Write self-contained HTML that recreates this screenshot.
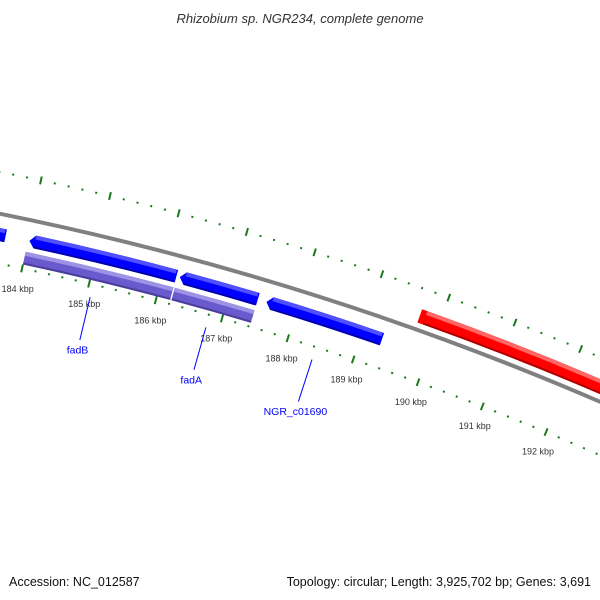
<!DOCTYPE html>
<html><head><meta charset="utf-8"><style>
html,body{margin:0;padding:0;background:#fff;width:600px;height:600px;overflow:hidden;}
svg{display:block;font-family:"Liberation Sans",sans-serif;overflow:hidden;}
</style></head><body>
<svg id="map" width="600" height="600" viewBox="0 0 600 600" xmlns="http://www.w3.org/2000/svg">
<rect width="600" height="600" fill="#fff"/>
<g id="plot"></g>
<text x="300" y="23" text-anchor="middle" font-size="13" font-style="italic" fill="#333">Rhizobium sp. NGR234, complete genome</text>
<text x="9" y="586" font-size="12.5" fill="#111">Accession: NC_012587</text>
<text x="591" y="586" text-anchor="end" font-size="12.5" fill="#111">Topology: circular; Length: 3,925,702 bp; Genes: 3,691</text>
</svg>
<script>
// data
const geneStart = [182.5, 184.02, 186.25, 187.55, 189.7];
const geneEnd   = [183.67, 186.2, 187.42, 189.3, 194.0];
const geneStrand = [-1, -1, -1, -1, 1];
const cogStart = [184.0, 186.22];
const cogEnd   = [186.2, 187.42];
const majorTicks = [184,185,186,187,188,189,190,191,192];
const tickLabels = ["184 kbp","185 kbp","186 kbp","187 kbp","188 kbp","189 kbp","190 kbp","191 kbp","192 kbp"];
const geneLabels = ["fadB","fadA","NGR_c01690"];
const geneLabelPos = [185.06, 186.81, 188.43];

// geometry
const CX=-605, CY=3196;
const R_BACK=3043, R_INNER=2994, R_OUTER=3084, R_LABEL=2973;
function ang(kbp){return (-77.91+(kbp-184)*1.315)*Math.PI/180;}
function P(r,k){const t=ang(k);return [CX+r*Math.cos(t), CY+r*Math.sin(t)];}
const NS="http://www.w3.org/2000/svg";
const g=document.getElementById('plot');
function mk(tag,attrs){const e=document.createElementNS(NS,tag);for(const k in attrs)e.setAttribute(k,attrs[k]);g.appendChild(e);return e;}
function band(r1,r2,k1,k2){
  const a=P(r2,k1),b=P(r2,k2),c=P(r1,k2),d=P(r1,k1);
  return `M${a[0]},${a[1]} A${r2},${r2} 0 0 1 ${b[0]},${b[1]} L${c[0]},${c[1]} A${r1},${r1} 0 0 0 ${d[0]},${d[1]} Z`;
}
function arrowBand(r1,r2,k1,k2,strand){
  const h=0.08, rm=(r1+r2)/2;
  if(strand<0){
    const t=P(rm,k1),a=P(r2,k1+h),b=P(r2,k2),c=P(r1,k2),d=P(r1,k1+h);
    return `M${t[0]},${t[1]} L${a[0]},${a[1]} A${r2},${r2} 0 0 1 ${b[0]},${b[1]} L${c[0]},${c[1]} A${r1},${r1} 0 0 0 ${d[0]},${d[1]} Z`;
  } else {
    const t=P(rm,k2),a=P(r2,k1),b=P(r2,k2-h),c=P(r1,k2-h),d=P(r1,k1);
    return `M${a[0]},${a[1]} A${r2},${r2} 0 0 1 ${b[0]},${b[1]} L${t[0]},${t[1]} L${c[0]},${c[1]} A${r1},${r1} 0 0 0 ${d[0]},${d[1]} Z`;
  }
}

// ticks
for(let i=0;i<=65;i++){
  const k=182+i*0.2;
  const major=Math.abs(k-Math.round(k))<1e-6;
  [R_INNER,R_OUTER].forEach(r=>{
    const l=major?4:1;
    const p1=P(r-l,k),p2=P(r+l,k);
    const ln=mk('line',{x1:p1[0],y1:p1[1],x2:p2[0],y2:p2[1],stroke:'#1a7a1a','stroke-width':2});
    
    
  });
}
majorTicks.forEach((k,i)=>{
  const p=P(R_LABEL,k);
  const t=mk('text',{x:p[0],y:p[1]+3,'text-anchor':'middle','font-size':9,fill:'#333'});
  t.textContent=tickLabels[i];
  
  
});

// backbone (arc only within view)
const b1=P(R_BACK,182.5),b2=P(R_BACK,193.5);
const bb=mk('path',{d:`M${b1[0]},${b1[1]} A${R_BACK},${R_BACK} 0 0 1 ${b2[0]},${b2[1]}`,fill:'none',stroke:'#808080','stroke-width':4});



// genes
geneStart.forEach((s,i)=>{
  const st=geneStrand[i];
  const r1=st<0?3016:3050, r2=st<0?3029:3064;
  const base=st<0?'#0000ff':'#ff0000', hi=st<0?'#5050ff':'#ff6666', lo=st<0?'#0000b0':'#b00000';
  const grp=document.createElementNS(NS,'g');g.appendChild(grp);
  
  
  const m=document.createElementNS(NS,'path');m.setAttribute('d',arrowBand(r1,r2,s,geneEnd[i],st));m.setAttribute('fill',base);grp.appendChild(m);
  const h=document.createElementNS(NS,'path');h.setAttribute('d',band(r2-4,r2,s+0.08,geneEnd[i]-0.02));h.setAttribute('fill',hi);grp.appendChild(h);
  const l=document.createElementNS(NS,'path');l.setAttribute('d',band(r1,r1+2,s+0.08,geneEnd[i]-0.02));l.setAttribute('fill',lo);grp.appendChild(l);
});
cogStart.forEach((s,i)=>{
  const grp=document.createElementNS(NS,'g');g.appendChild(grp);
  
  
  const r1=2998,r2=3011;
  const m=document.createElementNS(NS,'path');m.setAttribute('d',band(r1,r2,s,cogEnd[i]));m.setAttribute('fill','#6a5acd');grp.appendChild(m);
  const h=document.createElementNS(NS,'path');h.setAttribute('d',band(r2-4,r2,s,cogEnd[i]));h.setAttribute('fill','#9d92e6');grp.appendChild(h);
  const l=document.createElementNS(NS,'path');l.setAttribute('d',band(r1,r1+2,s,cogEnd[i]));l.setAttribute('fill','#4a3e9a');grp.appendChild(l);
});

// gene labels
geneLabels.forEach((name,i)=>{
  const k=geneLabelPos[i];
  const p1=P(2981,k),p2=P(2937,k),pt=P(2927,k);
  const ln=mk('line',{x1:p1[0],y1:p1[1],x2:p2[0],y2:p2[1],stroke:'#0000ff','stroke-width':1});
  
  
  const t=mk('text',{x:pt[0],y:pt[1]+4,'text-anchor':'middle','font-size':10.5,fill:'#0000ff'});
  t.textContent=name;
  
  
});
</script>
</body></html>
